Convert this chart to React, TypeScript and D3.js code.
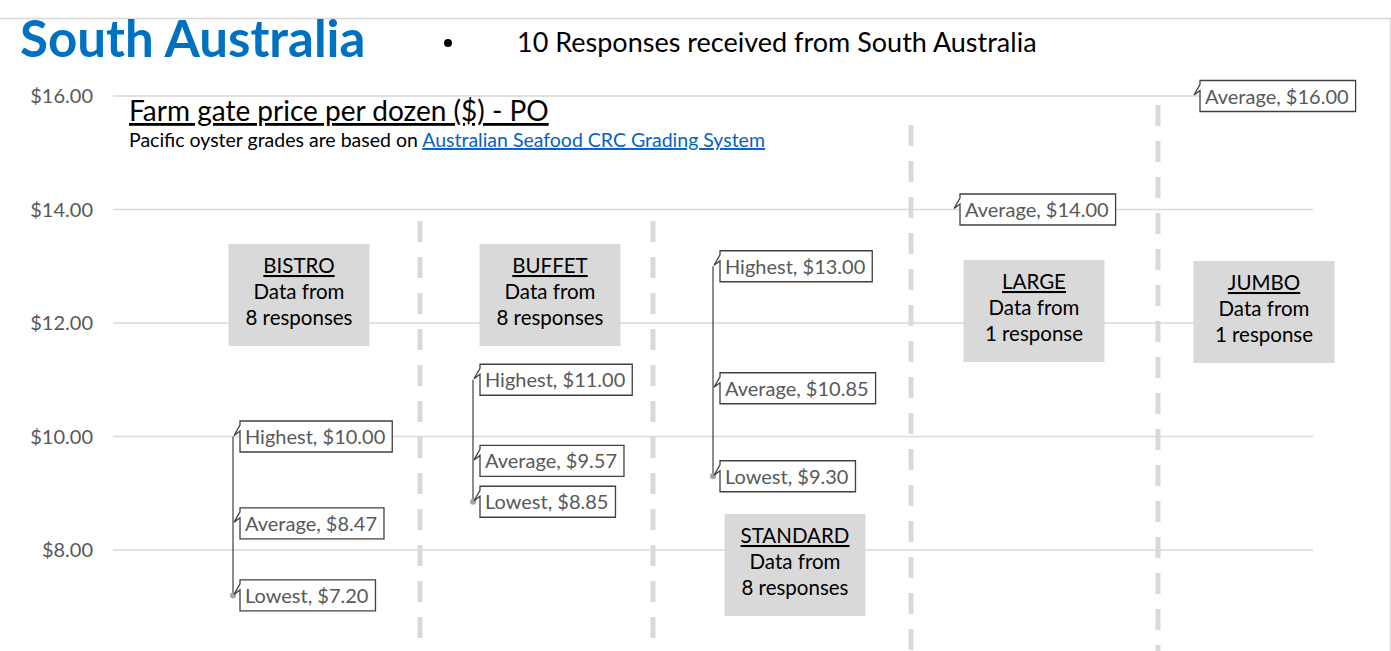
import React, { useEffect, useRef } from 'react';
import * as d3 from 'd3';

// chart values
const categories = ['BISTRO', 'BUFFET', 'STANDARD', 'LARGE', 'JUMBO'];
const responses = [8, 8, 8, 1, 1];
const highest = [10.0, 11.0, 13.0, null, null];
const average = [8.47, 9.57, 10.85, 14.0, 16.0];
const lowest = [7.2, 8.85, 9.3, null, null];
const yTicks = [8, 10, 12, 14, 16];

// placement of the grey info boxes (offset from category centre, top y)
const boxLayout = [
  { dx: 66, top: 244 },
  { dx: 77, top: 244 },
  { dx: 82, top: 514 },
  { dx: 81, top: 260 },
  { dx: 71, top: 261 },
];
// dashed separators drawn on the slide
const dividers = [
  { x: 420, top: 221 },
  { x: 653, top: 221 },
  { x: 911, top: 125 },
  { x: 1158, top: 105 },
];

const W = 1391;
const H = 651;
const FONT = 'Lato, "Open Sans", sans-serif';

function App() {
  const ref = useRef<SVGSVGElement>(null);

  useEffect(() => {
    const svg = d3.select(ref.current);
    svg.selectAll('*').remove();

    const x = d3.scaleBand().domain(categories).range([113, 1313]);
    const cx = (c: string) => (x(c) as number) + x.bandwidth() / 2;
    const y = d3.scaleLinear().domain([6, 16]).range([663.5, 96]);

    // slide border
    svg.append('path')
      .attr('d', `M0,18.5 H1390.5 V${H}`)
      .attr('fill', 'none')
      .attr('stroke', '#d9d9d9')
      .attr('stroke-width', 1.5);

    // headings
    svg.append('text')
      .attr('x', 20).attr('y', 57)
      .attr('font-family', FONT).attr('font-weight', 700)
      .attr('font-size', 51).attr('fill', '#0070c0')
      .text('South Australia');
    svg.append('circle').attr('cx', 448).attr('cy', 43).attr('r', 4).attr('fill', '#000');
    svg.append('text')
      .attr('x', 517).attr('y', 52)
      .attr('font-family', FONT).attr('font-size', 27).attr('fill', '#000')
      .text('10 Responses received from South Australia');

    // gridlines + y labels
    const grid = svg.append('g');
    yTicks.forEach(t => {
      grid.append('line')
        .attr('x1', 113).attr('x2', 1313)
        .attr('y1', y(t)).attr('y2', y(t))
        .attr('stroke', '#d9d9d9').attr('stroke-width', 1.3);
      grid.append('text')
        .attr('x', 93).attr('y', y(t) + 7)
        .attr('text-anchor', 'end')
        .attr('font-family', FONT).attr('font-size', 20).attr('fill', '#595959')
        .text(d3.format('$.2f')(t));
    });

    // chart title
    svg.append('text')
      .attr('x', 129).attr('y', 121)
      .attr('font-family', FONT).attr('font-size', 28).attr('fill', '#000')
      .attr('text-decoration', 'underline')
      .text('Farm gate price per dozen ($) - PO');
    const sub = svg.append('text')
      .attr('x', 129).attr('y', 147)
      .attr('font-family', FONT).attr('font-size', 19.5).attr('fill', '#000');
    sub.append('tspan').text('Pacific oyster grades are based on ');
    sub.append('tspan')
      .attr('fill', '#0563c1').attr('text-decoration', 'underline')
      .text('Australian Seafood CRC Grading System');

    // dashed separators
    dividers.forEach(d => {
      svg.append('line')
        .attr('x1', d.x).attr('x2', d.x)
        .attr('y1', d.top).attr('y2', H)
        .attr('stroke', '#d9d9d9').attr('stroke-width', 5)
        .attr('stroke-dasharray', '21,15');
    });

    // grey info boxes
    categories.forEach((c, i) => {
      const b = boxLayout[i];
      const bx = cx(c) + b.dx;
      svg.append('rect')
        .attr('x', bx - 70.5).attr('y', b.top)
        .attr('width', 141).attr('height', 102)
        .attr('fill', '#d9d9d9');
      const lines = [c, 'Data from', `${responses[i]} response${responses[i] > 1 ? 's' : ''}`];
      lines.forEach((s, k) => {
        svg.append('text')
          .attr('x', bx).attr('y', b.top + 29 + k * 26)
          .attr('text-anchor', 'middle')
          .attr('font-family', FONT).attr('font-size', 20.5).attr('fill', '#000')
          .attr('text-decoration', k === 0 ? 'underline' : null)
          .text(s);
      });
    });

    // high-low lines
    categories.forEach((c, i) => {
      const hi = highest[i];
      const lo = lowest[i];
      if (hi == null || lo == null) return;
      svg.append('line')
        .attr('x1', cx(c)).attr('x2', cx(c))
        .attr('y1', y(hi)).attr('y2', y(lo))
        .attr('stroke', '#404040').attr('stroke-width', 1.2);
      svg.append('circle')
        .attr('cx', cx(c)).attr('cy', y(lo)).attr('r', 3)
        .attr('fill', '#a5a5a5');
    });

    // callouts
    const callout = (px: number, py: number, label: string) => {
      const g = svg.append('g');
      const path = g.append('path');
      const L = px + 7;
      const txt = g.append('text')
        .attr('x', L + 5).attr('y', py + 7.5)
        .attr('font-family', FONT).attr('font-size', 20).attr('fill', '#595959')
        .text(label);
      const w = (txt.node() as SVGTextElement).getComputedTextLength() + 12;
      const T = py - 15.5;
      const B = py + 15.5;
      const R = L + w;
      path
        .attr('d', `M${L},${T} H${R} V${B} H${L} V${T + 10} L${px + 1},${py - 1} L${L},${T + 4} Z`)
        .attr('fill', '#fff')
        .attr('stroke', '#404040')
        .attr('stroke-width', 1.3);
    };
    categories.forEach((c, i) => {
      const px = cx(c);
      const hi = highest[i];
      const lo = lowest[i];
      if (hi != null) callout(px, y(hi), `Highest, ${d3.format('$.2f')(hi)}`);
      callout(px, y(average[i]), `Average, ${d3.format('$.2f')(average[i])}`);
      if (lo != null) callout(px, y(lo), `Lowest, ${d3.format('$.2f')(lo)}`);
    });
  }, []);

  return <svg ref={ref} width={W} height={H} style={{ display: 'block', position: 'absolute', left: 0, top: 0 }} />;
}

export default App;
